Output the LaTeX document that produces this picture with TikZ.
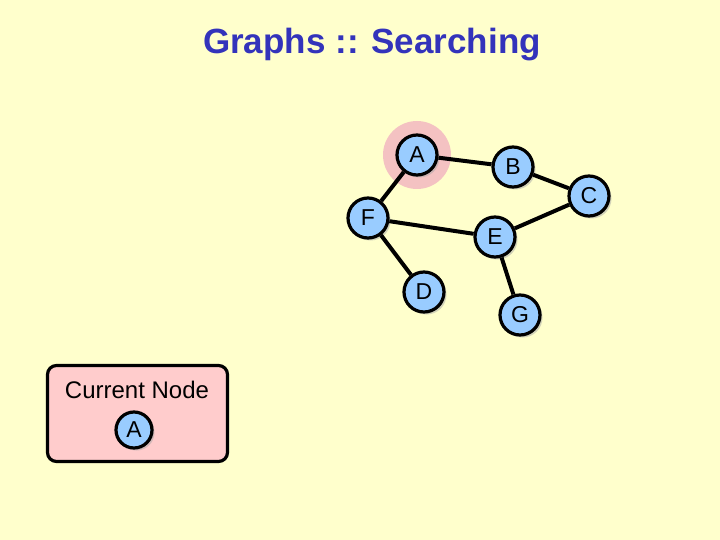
\documentclass[tikz,border=0pt]{standalone}
\usepackage{fontspec}
\setmainfont{Liberation Sans}
\usetikzlibrary{shadows}
\begin{document}
\begin{tikzpicture}[x=1pt,y=-1pt,
  gnode/.style={circle,draw=black,line width=3.2pt,fill=nodeblue,minimum size=40pt,inner sep=0pt,font=\fontsize{23}{24}\selectfont,
    drop shadow={shadow xshift=2.5pt,shadow yshift=-2.5pt,fill=gray!70}},
  edge/.style={line width=4pt,black}]
\definecolor{bg}{HTML}{FFFFCC}
\definecolor{nodeblue}{HTML}{99CCFF}
\definecolor{halo}{HTML}{F4C2C2}
\definecolor{legend}{HTML}{FFCCCC}
\definecolor{titleblue}{HTML}{3333BB}
\useasboundingbox[fill=bg] (0,0) rectangle (720,540);
\node[font=\bfseries\fontsize{35}{40}\selectfont,text=titleblue] (title) at (372,45) {Graphs :: Searching};
\fill[halo] (417,155) circle (34);
\node[gnode] (A) at (417,155) {A};
\node[gnode] (B) at (513,167) {B};
\node[gnode] (C) at (589,196) {C};
\node[gnode] (F) at (368,218) {F};
\node[gnode] (E) at (495,237) {E};
\node[gnode] (D) at (424,292) {D};
\node[gnode] (G) at (520,315) {G};
\draw[edge] (A) -- (B);
\draw[edge] (B) -- (C);
\draw[edge] (A) -- (F);
\draw[edge] (F) -- (E);
\draw[edge] (C) -- (E);
\draw[edge] (F) -- (D);
\draw[edge] (E) -- (G);
\node[draw=black,line width=3.2pt,fill=legend,rounded corners=9pt,minimum width=180pt,minimum height=96pt] (leg) at (137.5,413.5) {};
\node[font=\fontsize{24}{26}\selectfont] (cur) at (137,390) {Current Node};
\node[gnode,minimum size=36pt] (LA) at (134,430) {A};
\end{tikzpicture}
\end{document}
